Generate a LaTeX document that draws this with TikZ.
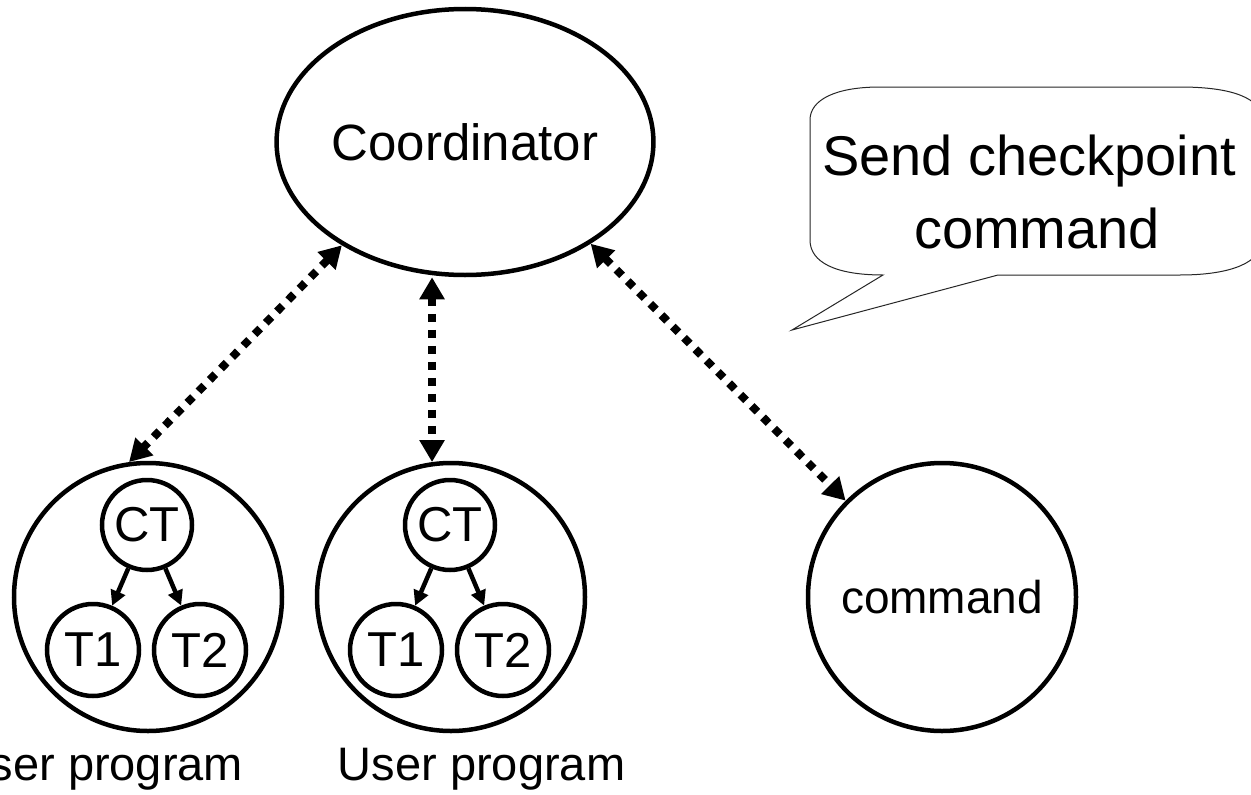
\documentclass[tikz,border=0pt]{standalone}
\usepackage{fontspec}
\setmainfont{Liberation Sans}
\usetikzlibrary{shapes.geometric,arrows.meta,calc}

\tikzset{
  process/.style={draw=black, line width=4.5pt, inner sep=0pt},
  bigtext/.style={font=\fontsize{51}{61}\selectfont},
  midtext/.style={font=\fontsize{47}{56}\selectfont},
  threadtext/.style={font=\fontsize{49}{58}\selectfont},
  calltext/.style={font=\fontsize{56}{73}\selectfont},
  link/.style={line width=8pt, dash pattern=on 8pt off 8pt,
    {Triangle[length=22pt,width=24pt]}-{Triangle[length=22pt,width=24pt]}},
  child/.style={line width=4.5pt, -{Triangle[length=15pt,width=15pt]}},
  callout/.style={draw=black!85, line width=1pt, fill=white}
}

\begin{document}
\begin{tikzpicture}[x=1pt,y=-1pt]
\useasboundingbox (0,0) rectangle (1251,795);
\clip (0,0) rectangle (1251,795);

% coordinator
\node[process, ellipse, minimum width=374pt, minimum height=266pt, bigtext]
  (coord) at (465,142) {Coordinator};

% the two user programs, each with a checkpoint thread and two worker threads
\foreach \n/\x/\lx in {a/148/99.5, b/451/481.6}{
  \node[process, circle, minimum size=268pt] (prog-\n) at (\x,597) {};
  \node[process, circle, minimum size=90pt, threadtext] (ct-\n) at (\x-1,525) {CT};
  \node[process, circle, minimum size=92pt, threadtext] (t1-\n) at (\x-55,650) {T1};
  \node[process, circle, minimum size=92pt, threadtext] (t2-\n) at (\x+52,650) {T2};
  \draw[child] (ct-\n) -- (t1-\n);
  \draw[child] (ct-\n) -- (t2-\n);
  \node[midtext, anchor=base, inner sep=0pt] (lab-\n) at (\lx,780) {User program};
}

% command client
\node[process, circle, minimum size=268pt, font=\fontsize{46}{55}\selectfont]
  (cmd) at (942,597) {command};

% coordinator links
\draw[link] (coord.220) -- (prog-a.98);
\draw[link] (coord.south -| prog-b.98) -- (prog-b.98);
\draw[link] (coord.321) -- (cmd.135);

% speech bubble
\draw[callout] (883,275) -- (792,330) -- (998,275) -- (1180,275)
  .. controls (1232,275) and (1262,262) .. (1262,240) -- (1262,120)
  .. controls (1262,98) and (1232,87) .. (1180,87) -- (880,87)
  .. controls (835,87) and (810,100) .. (810,120) -- (810,240)
  .. controls (810,262) and (835,275) .. (883,275) -- cycle;
\node[calltext, align=center, inner sep=0pt] (say) at (1037,192)
  {Send checkpoint\hspace*{0.28em}\\command};
\end{tikzpicture}
\end{document}
